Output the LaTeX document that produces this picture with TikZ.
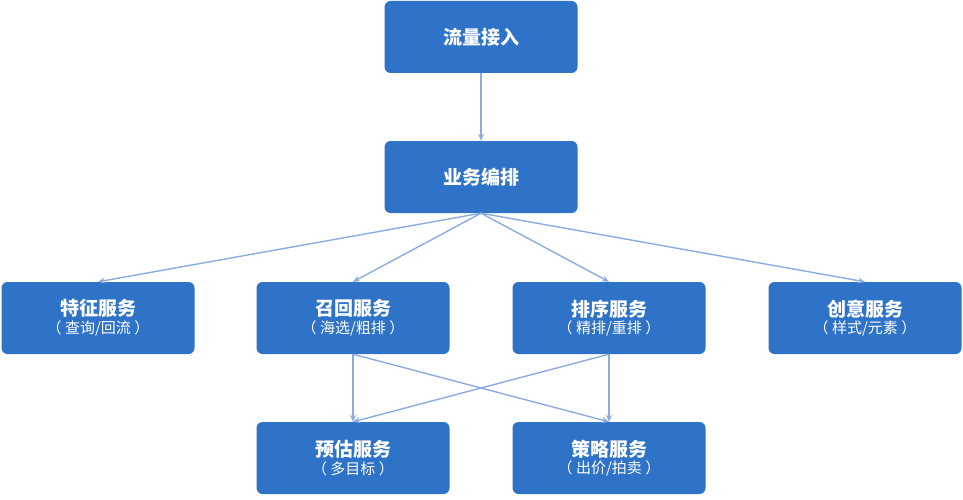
\documentclass[tikz,border=0pt]{standalone}
\usepackage{fontspec}
\newfontfamily\cjk{Noto Sans CJK SC}
\usetikzlibrary{arrows.meta, positioning}
\definecolor{boxblue}{RGB}{47, 115, 200}
\definecolor{linkblue}{RGB}{140, 172, 224}
\tikzset{
  svc/.style={fill=boxblue, text=white, rounded corners=6pt, minimum width=193pt,
    minimum height=72pt, align=center, inner sep=0pt, font=\cjk},
  link/.style={draw=linkblue, line width=1.4pt, -{Stealth[length=7pt,width=6pt]}}
}
\newcommand{\svctitle}[1]{{\fontsize{19}{26}\selectfont\bfseries #1}}
\newcommand{\svcsub}[1]{{\fontsize{15}{22}\selectfont #1}}
\begin{document}
\begin{tikzpicture}[x=1pt, y=-1pt]
    \useasboundingbox (0,0) rectangle (963,500);
    % Entry and orchestration
    \node[svc] (traffic) at (481,37) {\svctitle{流量接入}};
    \node[svc] (orch) at (481,177) {\svctitle{业务编排}};
    % Service row
    \node[svc] (feature) at (98,318) {\svctitle{特征服务}\\[2pt]\svcsub{（ 查询/回流 ）}};
    \node[svc] (recall) at (353,318) {\svctitle{召回服务}\\[2pt]\svcsub{（ 海选/粗排 ）}};
    \node[svc] (rank) at (609,318) {\svctitle{排序服务}\\[2pt]\svcsub{（ 精排/重排 ）}};
    \node[svc] (creative) at (865,318) {\svctitle{创意服务}\\[2pt]\svcsub{（ 样式/元素 ）}};
    % Lower row
    \node[svc] (predict) at (353,458) {\svctitle{预估服务}\\[2pt]\svcsub{（ 多目标 ）}};
    \node[svc] (strategy) at (609,458) {\svctitle{策略服务}\\[2pt]\svcsub{（ 出价/拍卖 ）}};
    % Connectors
    \draw[link] (traffic.south) -- (orch.north);
    \foreach \t in {feature, recall, rank, creative}
        \draw[link] (orch.south) -- (\t.north);
    \draw[link] (recall.south) -- (predict.north);
    \draw[link] (recall.south) -- (strategy.north);
    \draw[link] (rank.south) -- (strategy.north);
    \draw[link] (rank.south) -- (predict.north);
\end{tikzpicture}
\end{document}
